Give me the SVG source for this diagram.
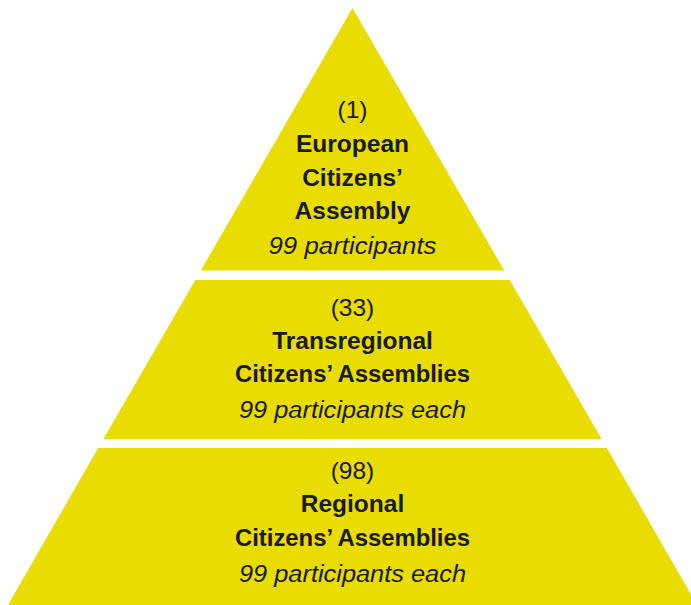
<svg xmlns="http://www.w3.org/2000/svg" width="691" height="605" viewBox="0 0 691 605">
<style>
.tier{fill:#E8DC00;}
text{font-family:"Liberation Sans",Arial,sans-serif;font-size:24.5px;fill:#1a1a1a;text-anchor:middle;}
.b{font-weight:bold;}
.i{font-style:italic;}
</style>
<rect width="691" height="605" fill="#ffffff"/>
<g id="tier-top">
<polygon class="tier" points="352.5,8 504.2,270.5 200.8,270.5"/>
<text x="352.5" y="118">(1)</text>
<text class="b" x="352.5" y="152">European</text>
<text class="b" x="352.5" y="186">Citizens’</text>
<text class="b" x="352.5" y="219">Assembly</text>
<text class="i" x="352.5" y="254" textLength="168" lengthAdjust="spacingAndGlyphs">99 participants</text>
</g>
<g id="tier-middle">
<polygon class="tier" points="195.3,280 509.7,280 601.6,439 103.4,439"/>
<text x="352.5" y="316">(33)</text>
<text class="b" x="352.5" y="349">Transregional</text>
<text class="b" x="352.5" y="382" textLength="235" lengthAdjust="spacingAndGlyphs">Citizens’ Assemblies</text>
<text class="i" x="352.5" y="418" textLength="227" lengthAdjust="spacingAndGlyphs">99 participants each</text>
</g>
<g id="tier-bottom">
<polygon class="tier" points="98.2,448 606.8,448 697.6,606 7.4,606"/>
<text x="352.5" y="479">(98)</text>
<text class="b" x="352.5" y="512">Regional</text>
<text class="b" x="352.5" y="546" textLength="235" lengthAdjust="spacingAndGlyphs">Citizens’ Assemblies</text>
<text class="i" x="352.5" y="582" textLength="227" lengthAdjust="spacingAndGlyphs">99 participants each</text>
</g>
<g id="connectors"/>
</svg>
